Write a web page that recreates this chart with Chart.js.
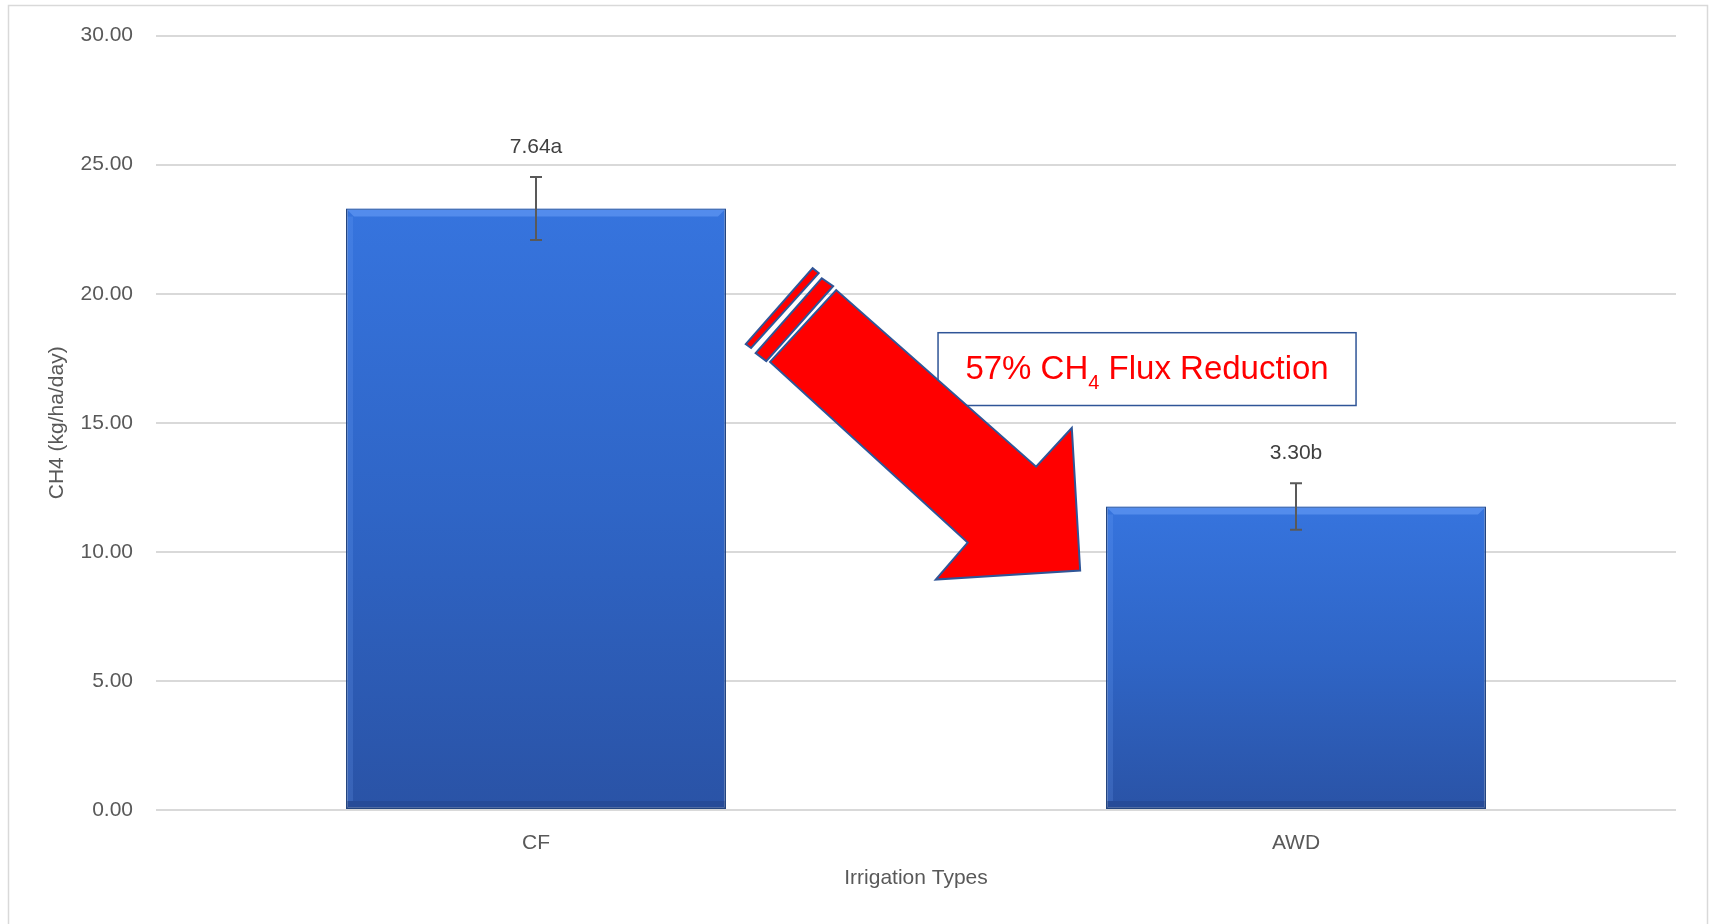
<!DOCTYPE html>
<html>
<head>
<meta charset="utf-8">
<script src="https://cdn.jsdelivr.net/npm/chart.js@4.4.0/dist/chart.umd.min.js"></script>
<style>
html, body { margin: 0; padding: 0; background: #fff; }
</style>
</head>
<body>
<canvas id="ch4Chart" width="1710" height="924"></canvas>
<script>
// data
const categories = ["CF", "AWD"];
const fluxMeans = [23.30, 11.76];
const fluxErrors = [1.22, 0.90];
const meanLabels = ["7.64a", "3.30b"];
const yTicks = [0, 5, 10, 15, 20, 25, 30];

const calloutText = ["57% CH", "4", " Flux Reduction"];

// arrow outline in (category index, value) space
const arrowShape = [[0.308, 17.36], [0.395, 20.14], [0.658, 13.30], [0.705, 14.80],
                    [0.716, 9.28], [0.526, 8.93], [0.568, 10.36]];
const arrowStrips = [
    [[0.289, 17.70], [0.376, 20.60], [0.391, 20.29], [0.303, 17.39]],
    [[0.276, 18.05], [0.364, 20.99], [0.372, 20.80], [0.283, 17.90]]
];
const calloutBox = [[0.529, 18.49], [1.079, 15.67]];

const FONT = "'Liberation Sans', Arial, sans-serif";
const GREY = "#595959";

function toPx(chart, p) {
    return [chart.scales.x.getPixelForValue(p[0]), chart.scales.y.getPixelForValue(p[1])];
}

const framePlugin = {
    id: "frame",
    beforeDraw(chart) {
        const c = chart.ctx;
        c.save();
        c.fillStyle = "#fff";
        c.fillRect(0, 0, chart.width, chart.height);
        c.strokeStyle = "#d9d9d9";
        c.lineWidth = 1.5;
        c.strokeRect(8.5, 5.5, chart.width - 11, chart.height - 4);
        c.restore();
    }
};

const barExtras = {
    id: "barExtras",
    afterDatasetsDraw(chart) {
        const c = chart.ctx;
        const y = chart.scales.y;
        const meta = chart.getDatasetMeta(0);
        c.save();
        meta.data.forEach((bar, i) => {
            const half = bar.width / 2;
            // bevel highlight on top and left edge
            c.fillStyle = "rgba(120,170,255,0.45)";
            c.beginPath();
            c.moveTo(bar.x - half, bar.y);
            c.lineTo(bar.x + half, bar.y);
            c.lineTo(bar.x + half - 8, bar.y + 8);
            c.lineTo(bar.x - half + 8, bar.y + 8);
            c.closePath();
            c.fill();
            c.fillStyle = "rgba(120,170,255,0.18)";
            c.fillRect(bar.x - half + 1, bar.y + 8, 6, bar.base - bar.y - 16);
            c.fillStyle = "rgba(20,40,90,0.18)";
            c.fillRect(bar.x - half + 1, bar.base - 8, bar.width - 2, 7);

            // error bar
            const top = y.getPixelForValue(fluxMeans[i] + fluxErrors[i]);
            const bot = y.getPixelForValue(fluxMeans[i] - fluxErrors[i]);
            c.strokeStyle = GREY;
            c.lineWidth = 2;
            c.beginPath();
            c.moveTo(bar.x, top); c.lineTo(bar.x, bot);
            c.moveTo(bar.x - 6, top); c.lineTo(bar.x + 6, top);
            c.moveTo(bar.x - 6, bot); c.lineTo(bar.x + 6, bot);
            c.stroke();

            // mean label
            c.fillStyle = "#404040";
            c.font = "21px " + FONT;
            c.textAlign = "center";
            c.textBaseline = "middle";
            c.fillText(meanLabels[i], bar.x, top - 30);
        });
        c.restore();
    }
};

const calloutPlugin = {
    id: "callout",
    afterDraw(chart) {
        const c = chart.ctx;
        c.save();
        // text box
        const a = toPx(chart, calloutBox[0]);
        const b = toPx(chart, calloutBox[1]);
        c.fillStyle = "#fff";
        c.fillRect(a[0], a[1], b[0] - a[0], b[1] - a[1]);
        c.strokeStyle = "#2f5597";
        c.lineWidth = 1.5;
        c.strokeRect(a[0], a[1], b[0] - a[0], b[1] - a[1]);

        const big = "33px " + FONT, small = "20px " + FONT;
        c.font = big;
        const w0 = c.measureText(calloutText[0]).width;
        const w2 = c.measureText(calloutText[2]).width;
        c.font = small;
        const w1 = c.measureText(calloutText[1]).width;
        const cx = (a[0] + b[0]) / 2, cy = (a[1] + b[1]) / 2;
        let x = cx - (w0 + w1 + w2) / 2;
        c.fillStyle = "#ff0000";
        c.textAlign = "left";
        c.textBaseline = "alphabetic";
        c.font = big;
        c.fillText(calloutText[0], x, cy + 10);
        x += w0;
        c.font = small;
        c.fillText(calloutText[1], x, cy + 20);
        x += w1;
        c.font = big;
        c.fillText(calloutText[2], x, cy + 10);

        // arrow
        c.fillStyle = "#ff0000";
        c.strokeStyle = "#2f5597";
        c.lineWidth = 2;
        c.lineJoin = "miter";
        [arrowShape].concat(arrowStrips).forEach(shape => {
            c.beginPath();
            shape.forEach((p, k) => {
                const q = toPx(chart, p);
                if (k === 0) c.moveTo(q[0], q[1]); else c.lineTo(q[0], q[1]);
            });
            c.closePath();
            c.fill();
            c.stroke();
        });
        c.restore();
    }
};

const ctx = document.getElementById("ch4Chart").getContext("2d");

new Chart(ctx, {
    type: "bar",
    data: {
        labels: categories,
        datasets: [{
            data: fluxMeans,
            backgroundColor: (context) => {
                const chart = context.chart;
                const area = chart.chartArea;
                if (!area) return "#3370d8";
                const top = chart.scales.y.getPixelForValue(context.raw);
                const g = chart.ctx.createLinearGradient(0, top, 0, area.bottom);
                g.addColorStop(0, "#3674de");
                g.addColorStop(0.5, "#2f65c6");
                g.addColorStop(1, "#2a53a6");
                return g;
            },
            borderColor: "#24457f",
            borderWidth: 1.5,
            borderSkipped: false,
            barPercentage: 1,
            categoryPercentage: 0.5
        }]
    },
    options: {
        responsive: false,
        animation: false,
        devicePixelRatio: 1,
        layout: { padding: { left: 41, top: 34, right: 34, bottom: 29 } },
        plugins: {
            legend: { display: false },
            tooltip: { enabled: false }
        },
        scales: {
            x: {
                grid: { display: false, drawTicks: false },
                border: { display: false },
                ticks: { color: GREY, font: { family: FONT, size: 21 }, padding: 21 },
                title: { display: true, text: "Irrigation Types", color: GREY, font: { family: FONT, size: 21 } },
                afterFit(scale) { scale.height = 85; }
            },
            y: {
                min: 0,
                max: 30,
                afterBuildTicks(scale) { scale.ticks = yTicks.map(v => ({ value: v })); },
                grid: { color: "#d9d9d9", lineWidth: 2, drawTicks: false },
                border: { display: false },
                ticks: {
                    color: GREY, font: { family: FONT, size: 21 }, padding: 23,
                    callback: (v) => Number(v).toFixed(2)
                },
                title: { display: true, text: "CH4 (kg/ha/day)", color: GREY, font: { family: FONT, size: 21 } },
                afterFit(scale) { scale.width = 115; }
            }
        }
    },
    plugins: [framePlugin, barExtras, calloutPlugin]
});
</script>
</body>
</html>
